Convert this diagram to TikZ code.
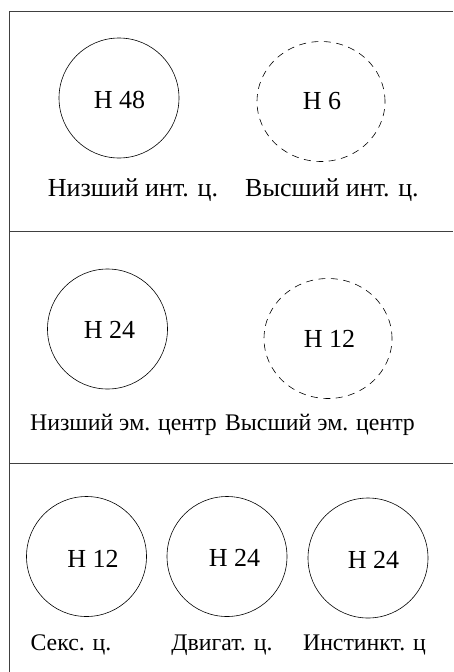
\documentclass[tikz,border=0pt]{standalone}
\usepackage{fontspec}
\setmainfont{Liberation Serif}
\usetikzlibrary{shapes.geometric}
\begin{document}
\begin{tikzpicture}[x=1pt,y=-1pt,
    center/.style={draw,circle,minimum size=120pt,inner sep=0pt,line width=0.6pt},
    hidden/.style={draw,ellipse,minimum width=128pt,minimum height=120pt,inner sep=0pt,
      line width=0.6pt,dash pattern=on 7pt off 5.5pt},
    val/.style={anchor=base,inner sep=0pt,font=\fontsize{26}{30}\selectfont},
    txt/.style={anchor=base,inner sep=0pt,font=\fontsize{23.8}{28}\selectfont},
    bigtxt/.style={txt,font=\fontsize{26}{30}\selectfont}]
      \useasboundingbox (0,0) rectangle (453,672);
      \draw[black!75,line width=1pt] (9,672) -- (9,11) -- (453,11);
      \draw[black!75,line width=1pt] (9,231) -- (453,231);
      \draw[black!75,line width=1pt] (9,463) -- (453,463);
      \draw
        (119,98) node[center] (c1){}
        (321,101.5) node[hidden] (c2){}
        (107.5,329) node[center] (c3){}
        (328,338.5) node[hidden] (c4){}
        (86.5,556.5) node[center] (c5){}
        (227,556.5) node[center] (c6){}
        (368,558) node[center] (c7){};
      \draw
        (119.5,108) node[val] (n1){Н 48}
        (322,109) node[val] (n2){Н 6}
        (109.5,338) node[val] (n3){Н 24}
        (329.5,347) node[val] (n4){Н 12}
        (93,567) node[val] (n5){Н 12}
        (234.5,566) node[val] (n6){Н 24}
        (373.5,568) node[val] (n7){Н 24};
      \draw
        (133,196) node[bigtxt] (l1){Низший инт. ц.}
        (332,196) node[bigtxt] (l2){Высший инт. ц.}
        (123.5,430) node[txt] (l3){Низший эм. центр}
        (320,430) node[txt] (l4){Высший эм. центр}
        (71,650) node[txt] (l5){Секс. ц.}
        (222,650) node[txt] (l6){Двигат. ц.}
        (364.5,650) node[txt] (l7){Инстинкт. ц};
    \end{tikzpicture}
\end{document}
